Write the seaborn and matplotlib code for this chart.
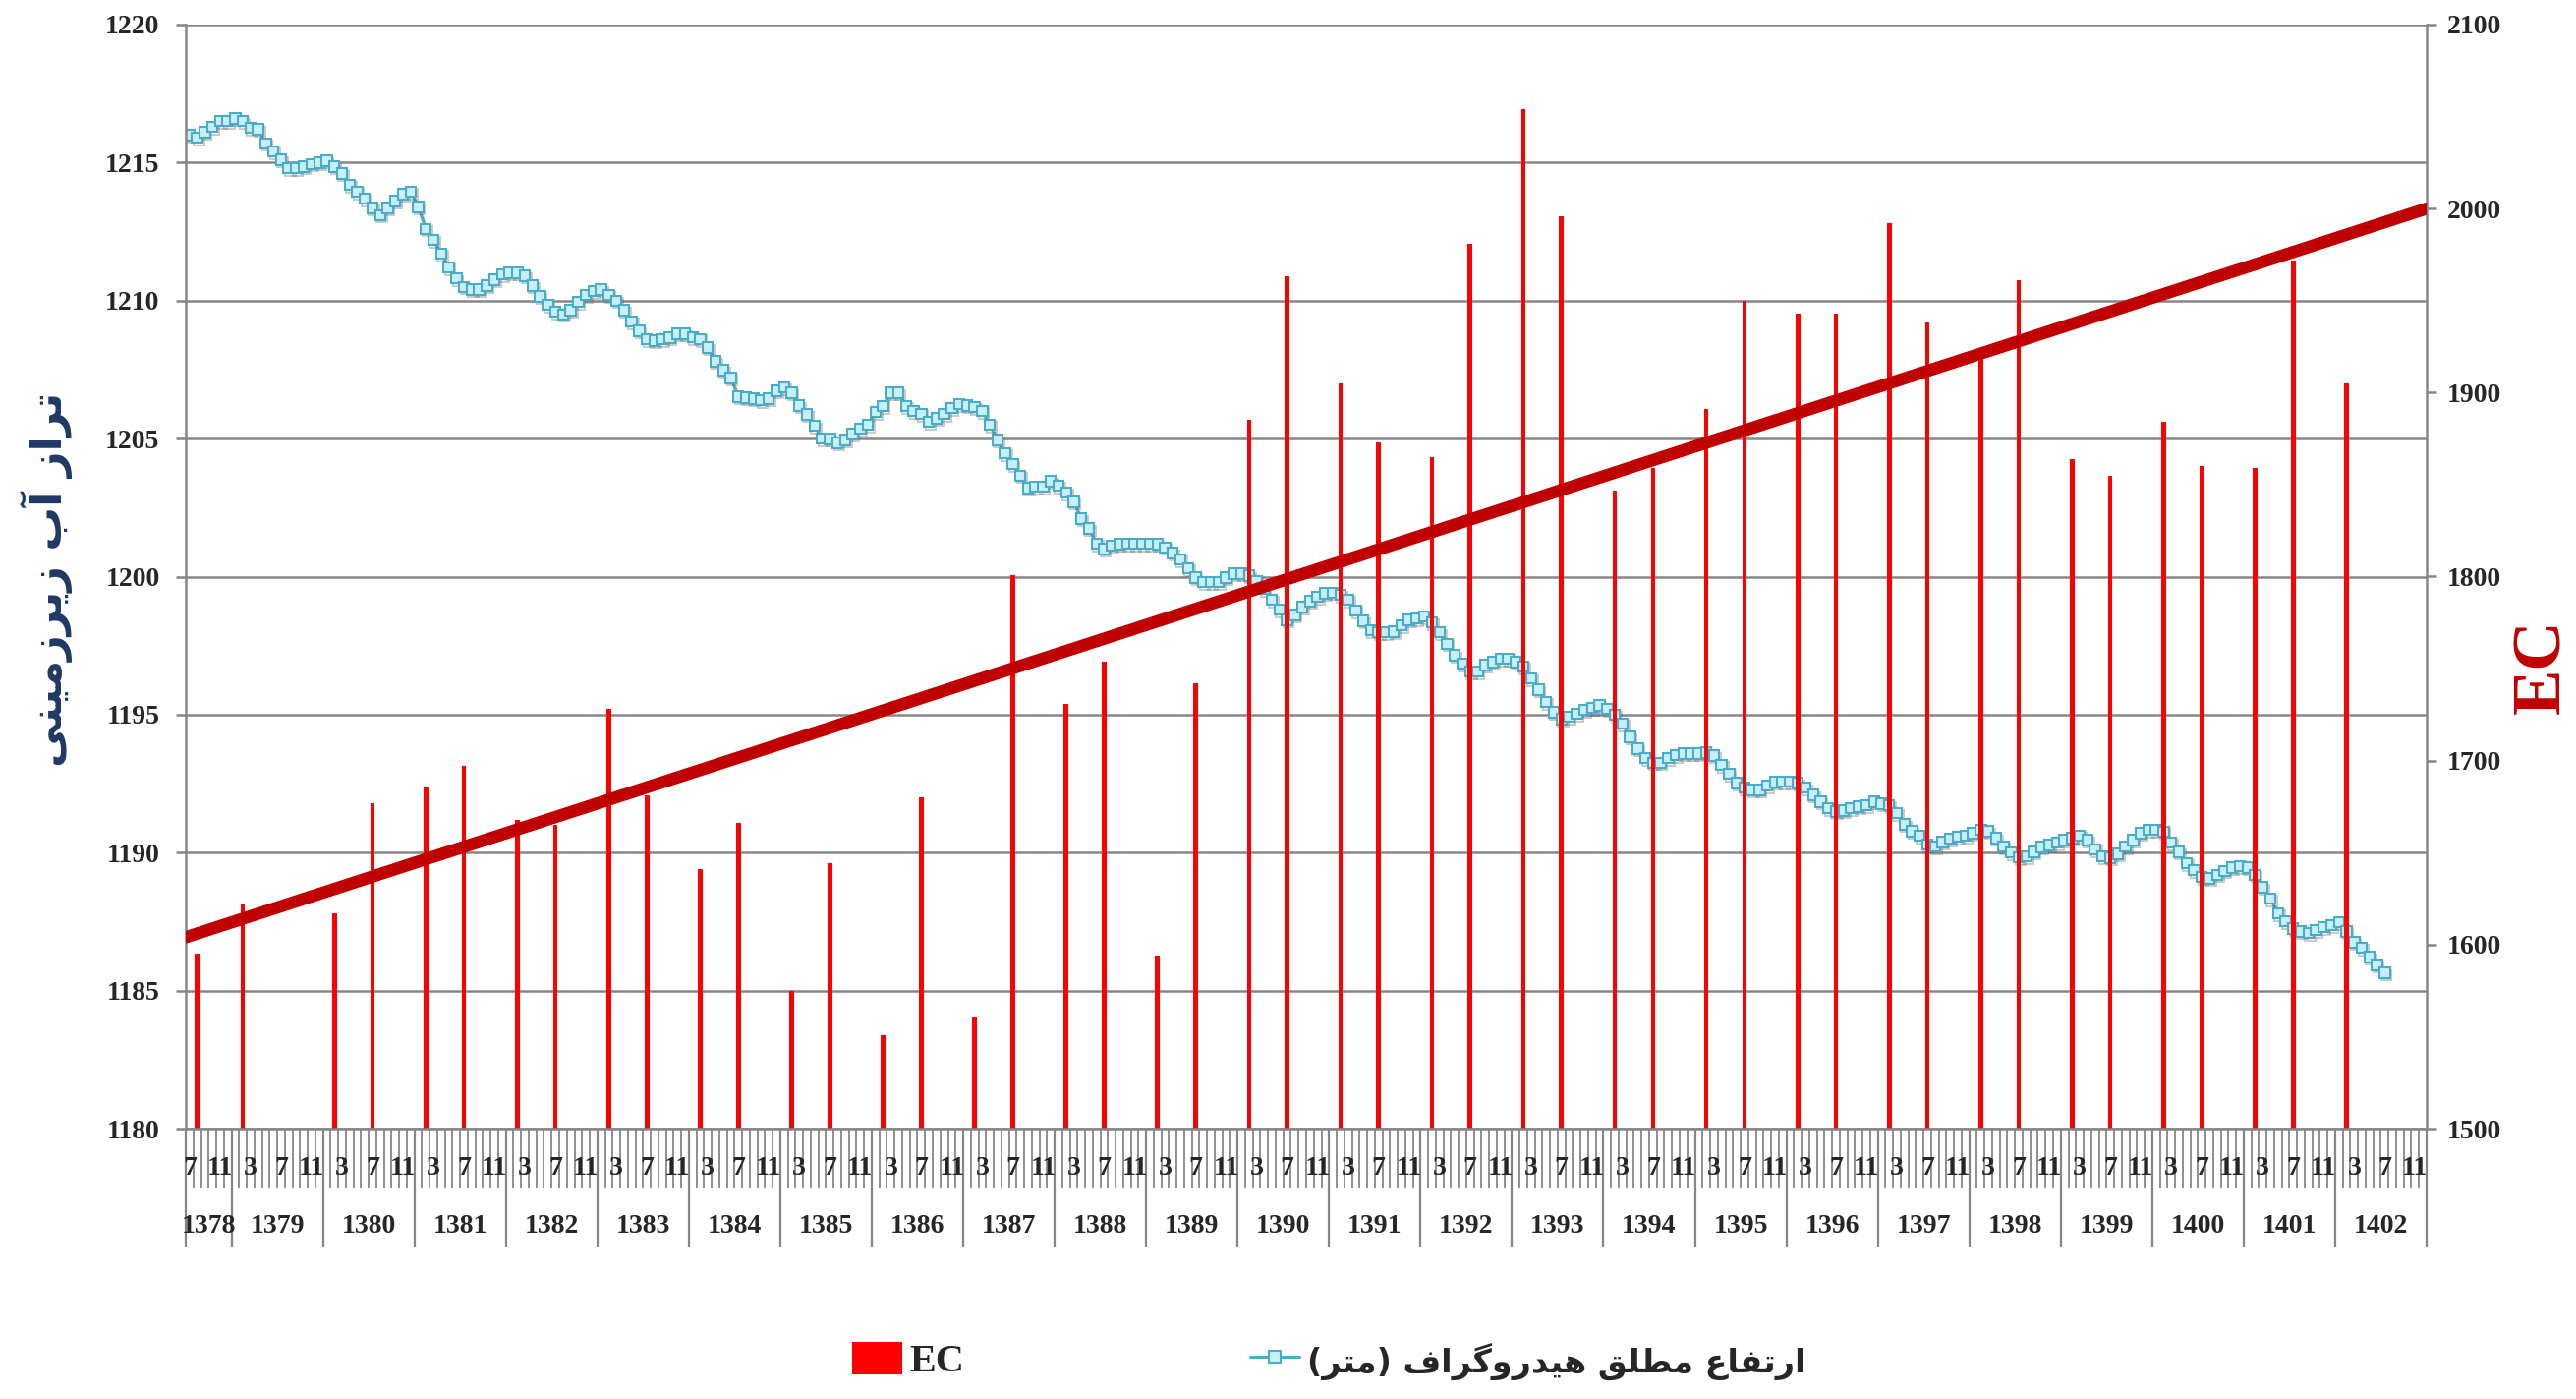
import matplotlib
matplotlib.use('Agg')
import matplotlib.pyplot as plt
import matplotlib.patheffects as pe
from matplotlib.lines import Line2D
from matplotlib.patches import Patch
import seaborn as sns
import pandas as pd

# ---------------- data ----------------
years = list(range(1378, 1403))
first_month = 7          # series starts at 1378-07
month_ticks = [3, 7, 11]  # month labels shown on the axis

# groundwater level (m), monthly from 1378-07 to 1402-07
hydro_level = [
    1216.0, 1215.9, 1216.1, 1216.3, 1216.5, 1216.5,                                          # 1378
    1216.6, 1216.5, 1216.25, 1216.2, 1215.7, 1215.4, 1215.1, 1214.8, 1214.8, 1214.85, 1214.95, 1215.0,   # 1379
    1215.07, 1214.85, 1214.6, 1214.2, 1213.95, 1213.7, 1213.35, 1213.1, 1213.35, 1213.6, 1213.85, 1213.95,  # 1380
    1213.4, 1212.6, 1212.2, 1211.7, 1211.2, 1210.8, 1210.5, 1210.4, 1210.4, 1210.55, 1210.75, 1210.95,  # 1381
    1211.0, 1211.0, 1210.9, 1210.55, 1210.15, 1209.85, 1209.6, 1209.5, 1209.65, 1209.95, 1210.2, 1210.35,  # 1382
    1210.4, 1210.2, 1210.0, 1209.65, 1209.25, 1208.9, 1208.6, 1208.55, 1208.6, 1208.65, 1208.8, 1208.8,  # 1383
    1208.68, 1208.6, 1208.3, 1207.8, 1207.48, 1207.2, 1206.52, 1206.48, 1206.45, 1206.4, 1206.45, 1206.73,  # 1384
    1206.86, 1206.66, 1206.2, 1205.87, 1205.46, 1205.0, 1204.98, 1204.85, 1204.95, 1205.16, 1205.36, 1205.5,  # 1385
    1205.97, 1206.18, 1206.66, 1206.66, 1206.18, 1206.0, 1205.9, 1205.6, 1205.73, 1205.9, 1206.1, 1206.25,  # 1386
    1206.2, 1206.14, 1206.0, 1205.5, 1204.95, 1204.47, 1204.07, 1203.66, 1203.2, 1203.25, 1203.25, 1203.45,  # 1387
    1203.3, 1203.04, 1202.7, 1202.1, 1201.75, 1201.2, 1201.0, 1201.13, 1201.17, 1201.2, 1201.2, 1201.2,  # 1388
    1201.2, 1201.17, 1201.06, 1200.86, 1200.63, 1200.3, 1199.97, 1199.8, 1199.8, 1199.8, 1199.97, 1200.1,  # 1389
    1200.1, 1200.04, 1199.84, 1199.55, 1199.17, 1198.8, 1198.44, 1198.61, 1198.89, 1199.11, 1199.27, 1199.39,  # 1390
    1199.42, 1199.34, 1199.17, 1198.77, 1198.39, 1198.06, 1197.98, 1197.98, 1198.01, 1198.23, 1198.43, 1198.48,  # 1391
    1198.56, 1198.34, 1197.98, 1197.57, 1197.15, 1196.85, 1196.57, 1196.57, 1196.79, 1196.9, 1197.02, 1197.02,  # 1392
    1196.9, 1196.74, 1196.32, 1195.91, 1195.46, 1195.08, 1194.83, 1194.92, 1195.03, 1195.17, 1195.25, 1195.33,  # 1393
    1195.2, 1195.0, 1194.67, 1194.2, 1193.76, 1193.43, 1193.26, 1193.26, 1193.43, 1193.54, 1193.59, 1193.59,  # 1394
    1193.59, 1193.63, 1193.51, 1193.18, 1192.85, 1192.52, 1192.35, 1192.27, 1192.27, 1192.43, 1192.55, 1192.57,  # 1395
    1192.57, 1192.52, 1192.35, 1192.1, 1191.85, 1191.61, 1191.49, 1191.52, 1191.61, 1191.66, 1191.72, 1191.85,  # 1396
    1191.77, 1191.72, 1191.44, 1191.03, 1190.78, 1190.61, 1190.3, 1190.22, 1190.38, 1190.5, 1190.58, 1190.61,  # 1397
    1190.7, 1190.83, 1190.78, 1190.53, 1190.23, 1190.0, 1189.83, 1189.87, 1190.03, 1190.2, 1190.28, 1190.36,  # 1398
    1190.45, 1190.53, 1190.61, 1190.45, 1190.12, 1189.87, 1189.82, 1189.95, 1190.23, 1190.45, 1190.7, 1190.83,  # 1399
    1190.83, 1190.75, 1190.36, 1190.03, 1189.62, 1189.37, 1189.12, 1189.07, 1189.2, 1189.34, 1189.45, 1189.5,  # 1400
    1189.45, 1189.2, 1188.74, 1188.34, 1187.8, 1187.52, 1187.25, 1187.14, 1187.09, 1187.19, 1187.3, 1187.38,  # 1401
    1187.47, 1187.14, 1186.75, 1186.56, 1186.22, 1185.93, 1185.64,                            # 1402
]

# EC samples (year-month) and values
ec_dates = [
    '1378-08', '1379-02', '1380-02', '1380-07', '1381-02', '1381-07', '1382-02', '1382-07',
    '1383-02', '1383-07', '1384-02', '1384-07', '1385-02', '1385-07', '1386-02', '1386-07',
    '1387-02', '1387-07', '1388-02', '1388-07', '1389-02', '1389-07', '1390-02', '1390-07',
    '1391-02', '1391-07', '1392-02', '1392-07', '1393-02', '1393-07', '1394-02', '1394-07',
    '1395-02', '1395-07', '1396-02', '1396-07', '1397-02', '1397-07', '1398-02', '1398-07',
    '1399-02', '1399-07', '1400-02', '1400-07', '1401-02', '1401-07', '1402-02',
]
ec_values = [
    1595, 1622, 1617, 1677, 1686, 1697, 1668, 1665,
    1728, 1681, 1641, 1666, 1575, 1644, 1551, 1680,
    1561, 1801, 1731, 1754, 1594, 1742, 1885, 1963,
    1905, 1873, 1865, 1981, 2054, 1996, 1847, 1859,
    1891, 1950, 1943, 1943, 1992, 1938, 1920, 1961,
    1864, 1855, 1884, 1860, 1859, 1972, 1905,
]
# linear EC trend, value at start and end of the axis
ec_trend = [1604, 2000]

LEVEL_LABEL = 'تراز آب زیرزمینی'
LEGEND_LEVEL = 'ارتفاع مطلق هیدروگراف (متر)'


# ---------- simple Persian shaping (no bidi lib available) ----------
FORMS = {
    'ا': ('\uFE8D', '\uFE8E', None, None),
    'آ': ('\uFE81', '\uFE82', None, None),
    'ب': ('\uFE8F', '\uFE90', '\uFE91', '\uFE92'),
    'ت': ('\uFE95', '\uFE96', '\uFE97', '\uFE98'),
    'د': ('\uFEA9', '\uFEAA', None, None),
    'ر': ('\uFEAD', '\uFEAE', None, None),
    'ز': ('\uFEAF', '\uFEB0', None, None),
    'و': ('\uFEED', '\uFEEE', None, None),
    'ط': ('\uFEC1', '\uFEC2', '\uFEC3', '\uFEC4'),
    'ع': ('\uFEC9', '\uFECA', '\uFECB', '\uFECC'),
    'ف': ('\uFED1', '\uFED2', '\uFED3', '\uFED4'),
    'ق': ('\uFED5', '\uFED6', '\uFED7', '\uFED8'),
    'ل': ('\uFEDD', '\uFEDE', '\uFEDF', '\uFEE0'),
    'م': ('\uFEE1', '\uFEE2', '\uFEE3', '\uFEE4'),
    'ن': ('\uFEE5', '\uFEE6', '\uFEE7', '\uFEE8'),
    'ه': ('\uFEE9', '\uFEEA', '\uFEEB', '\uFEEC'),
    '\u06CC': ('\uFBFC', '\uFBFD', '\uFBFE', '\uFBFF'),
    '\u064A': ('\uFBFC', '\uFBFD', '\uFBFE', '\uFBFF'),
    'گ': ('\uFB92', '\uFB93', '\uFB94', '\uFB95'),
}


def shape(text):
    out = []
    for i, ch in enumerate(text):
        if ch not in FORMS:
            out.append(ch)
            continue
        iso, fin, ini, med = FORMS[ch]
        prev = text[i - 1] if i > 0 else ''
        nxt = text[i + 1] if i + 1 < len(text) else ''
        join_prev = prev in FORMS and FORMS[prev][2] is not None
        join_next = ini is not None and nxt in FORMS
        if join_prev and join_next:
            out.append(med)
        elif join_prev:
            out.append(fin)
        elif join_next:
            out.append(ini)
        else:
            out.append(iso)
    s = ''.join(reversed(out))
    return s.translate(str.maketrans('()', ')('))


# ---------------- categories ----------------
cats = []
for y in years:
    m0 = first_month if y == years[0] else 1
    for m in range(m0, 13):
        cats.append((y, m))
pos = {c: i for i, c in enumerate(cats)}
n = len(cats)

df_level = pd.DataFrame({'pos': range(len(hydro_level)), 'level': hydro_level})
df_ec = pd.DataFrame({
    'pos': [pos[(int(d[:4]), int(d[5:]))] for d in ec_dates],
    'ec': ec_values,
})
df_trend = pd.DataFrame({'pos': [-0.5, n - 0.5], 'ec': ec_trend})

# ---------------- figure ----------------
sns.set_style('white')
plt.rcParams['font.family'] = ['Liberation Serif', 'DejaVu Sans']
plt.rcParams['font.weight'] = 'bold'

GRAY = '#868686'
W, H = 2621, 1423
fig = plt.figure(figsize=(W / 100, H / 100), dpi=100)
ax = fig.add_axes([189 / W, 1 - 1148 / H, (2469 - 189) / W, (1148 - 25) / H])
ax2 = ax.twinx()

# hydrograph line
sns.lineplot(data=df_level, x='pos', y='level', ax=ax, color='#4BACC6', linewidth=2.2,
             marker='s', markersize=7.5, markerfacecolor='#C6EFF9', markeredgecolor='#4BACC6',
             markeredgewidth=1.5, legend=False,
             path_effects=[pe.SimpleLineShadow(offset=(1.2, -1.8), shadow_color='#555555', alpha=0.3),
                           pe.Normal()])

# EC bars and trend
sns.barplot(data=df_ec, x='pos', y='ec', ax=ax2, native_scale=True, color='#FF0000',
            saturation=1, width=0.12, linewidth=0, errorbar=None)
sns.lineplot(data=df_trend, x='pos', y='ec', ax=ax2, color='#C00000', linewidth=9,
             legend=False, zorder=3)

for a in (ax, ax2):
    a.set_xlim(-0.5, n - 0.5)
    a.set_xticks([])
    a.set_xlabel('')
    a.set_ylabel('')

ax.set_ylim(1180, 1220)
ax.set_yticks(range(1180, 1221, 5))
ax2.set_ylim(1500, 2100)
ax2.set_yticks(range(1500, 2101, 100))

ax.yaxis.grid(True, color=GRAY, linewidth=1.8)
ax.xaxis.grid(False)
ax2.grid(False)
ax.set_axisbelow(True)

for s in ('top', 'right', 'bottom'):
    ax.spines[s].set_visible(False)
ax.spines['left'].set_color(GRAY)
ax.spines['left'].set_linewidth(1.8)
for s in ('top', 'left'):
    ax2.spines[s].set_visible(False)
for s in ('right', 'bottom'):
    ax2.spines[s].set_color(GRAY)
    ax2.spines[s].set_linewidth(1.8)

ax.tick_params(axis='y', direction='out', length=7, width=1.8, color=GRAY,
               labelsize=20, pad=12, left=True)
ax2.tick_params(axis='y', direction='out', length=7, width=1.8, color=GRAY,
                labelsize=20, pad=8, right=True)

# multi-level category axis
xt = ax.get_xaxis_transform()
ax.vlines([i - 0.5 for i in range(n + 1)], -0.053, 0, transform=xt, colors=GRAY,
          linewidth=1.3, clip_on=False)
year_edges = [pos[(y, first_month if y == years[0] else 1)] - 0.5 for y in years] + [n - 0.5]
ax.vlines(year_edges, -0.107, 0, transform=xt, colors=GRAY, linewidth=1.6, clip_on=False)

for i, (y, m) in enumerate(cats):
    if m in month_ticks:
        ax.text(i, -0.0365, str(m), transform=xt, ha='center', va='center',
                fontsize=20, fontweight='bold', clip_on=False)
for k, y in enumerate(years):
    mid = (year_edges[k] + year_edges[k + 1]) / 2
    ax.text(mid, -0.089, str(y), transform=xt, ha='center', va='center',
            fontsize=20, fontweight='bold', clip_on=False)

# axis titles
fig.text(0.018, 0.586, shape(LEVEL_LABEL), rotation=90, ha='center', va='center',
         color='#1F3864', fontsize=32, fontweight='bold', family=['DejaVu Sans'])
fig.text(0.987, 0.524, 'EC', rotation=90, ha='center', va='center',
         color='#C00000', fontsize=50, fontweight='bold')

# legend
handles = [
    Patch(facecolor='#FF0000', edgecolor='none'),
    Line2D([], [], color='#4BACC6', linewidth=2.2, marker='s', markersize=8,
           markerfacecolor='#C6EFF9', markeredgecolor='#4BACC6', markeredgewidth=1.5),
]
labels = ['EC', shape(LEGEND_LEVEL)]
leg = fig.legend(handles, labels, loc='center', bbox_to_anchor=(0.516, 0.027), ncol=2,
                 frameon=False, fontsize=29, handlelength=1.25, handleheight=0.9,
                 handletextpad=0.2, columnspacing=7.2)
leg.get_texts()[1].set_fontfamily(['DejaVu Sans'])
leg.get_texts()[1].set_fontsize(24)

fig.savefig('out.png', dpi=100)
